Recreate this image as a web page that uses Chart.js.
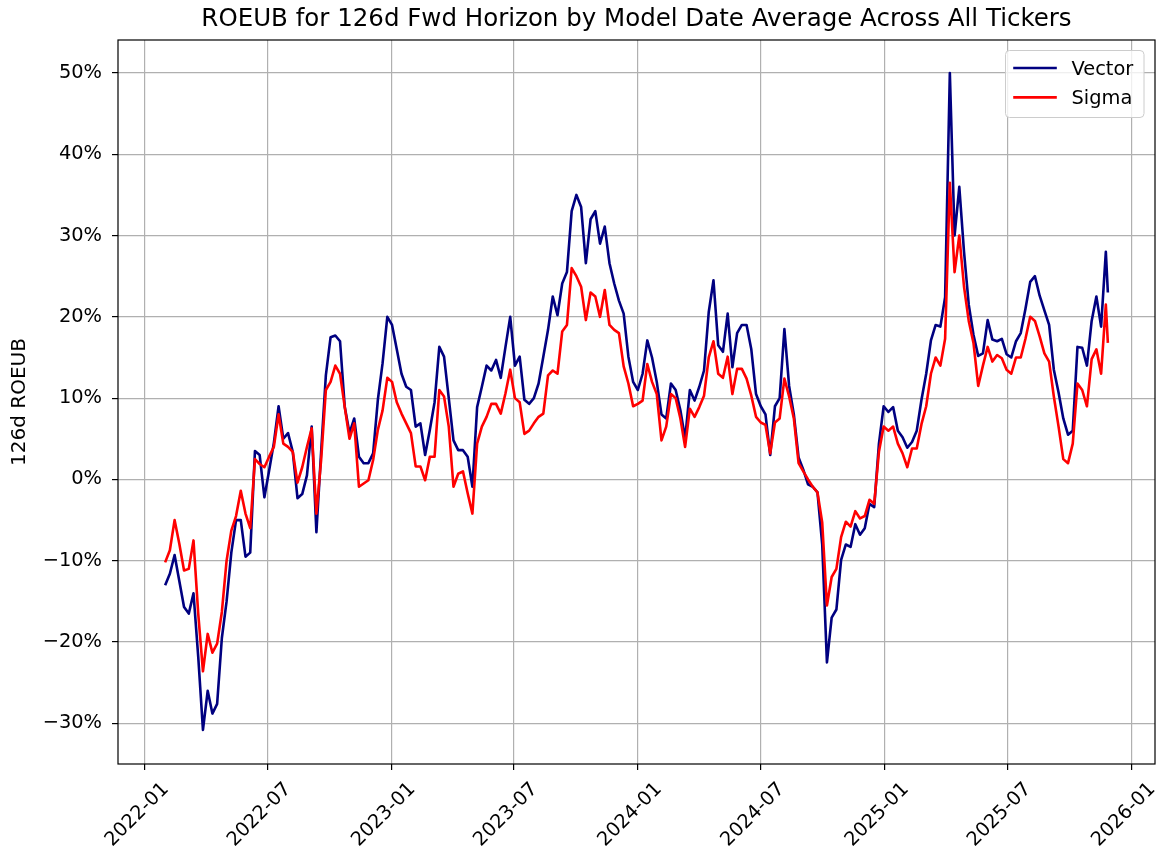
<!DOCTYPE html>
<html>
<head>
<meta charset="utf-8">
<style>
html,body{margin:0;padding:0;background:#ffffff;}
canvas{display:block;}
</style>
<script src="https://cdn.jsdelivr.net/npm/chart.js@4.4.1/dist/chart.umd.min.js"></script>
</head>
<body>
<canvas id="c" width="1173" height="857"></canvas>
<script>
// ---------------- data ----------------
const chartTitle = 'ROEUB for 126d Fwd Horizon by Model Date Average Across All Tickers';
const yAxisTitle = '126d ROEUB';
const seriesNames = ['Vector', 'Sigma'];

const dates = [
  '2022-01-31','2022-02-07','2022-02-14','2022-02-21','2022-02-28','2022-03-07','2022-03-14','2022-03-21','2022-03-28',
  '2022-04-04','2022-04-11','2022-04-18','2022-04-25','2022-05-02','2022-05-09','2022-05-16','2022-05-23','2022-05-30',
  '2022-06-06','2022-06-13','2022-06-20','2022-06-27','2022-07-04','2022-07-11','2022-07-18','2022-07-25',
  '2022-08-01','2022-08-08','2022-08-15','2022-08-22','2022-08-29','2022-09-05','2022-09-12','2022-09-19','2022-09-26',
  '2022-10-03','2022-10-10','2022-10-17','2022-10-24','2022-10-31','2022-11-07','2022-11-14','2022-11-21','2022-11-28',
  '2022-12-05','2022-12-12','2022-12-19','2022-12-26',
  '2023-01-02','2023-01-09','2023-01-16','2023-01-23','2023-01-30','2023-02-06','2023-02-13','2023-02-20','2023-02-27',
  '2023-03-06','2023-03-13','2023-03-20','2023-03-27','2023-04-03','2023-04-10','2023-04-17','2023-04-24',
  '2023-05-01','2023-05-08','2023-05-15','2023-05-22','2023-05-29','2023-06-05','2023-06-12','2023-06-19','2023-06-26',
  '2023-07-03','2023-07-10','2023-07-17','2023-07-24','2023-07-31','2023-08-07','2023-08-14','2023-08-21','2023-08-28',
  '2023-09-04','2023-09-11','2023-09-18','2023-09-25','2023-10-02','2023-10-09','2023-10-16','2023-10-23','2023-10-30',
  '2023-11-06','2023-11-13','2023-11-20','2023-11-27','2023-12-04','2023-12-11','2023-12-18','2023-12-25',
  '2024-01-01','2024-01-08','2024-01-15','2024-01-22','2024-01-29','2024-02-05','2024-02-12','2024-02-19','2024-02-26',
  '2024-03-04','2024-03-11','2024-03-18','2024-03-25','2024-04-01','2024-04-08','2024-04-15','2024-04-22','2024-04-29',
  '2024-05-06','2024-05-13','2024-05-20','2024-05-27','2024-06-03','2024-06-10','2024-06-17','2024-06-24',
  '2024-07-01','2024-07-08','2024-07-15','2024-07-22','2024-07-29','2024-08-05','2024-08-12','2024-08-19','2024-08-26',
  '2024-09-02','2024-09-09','2024-09-16','2024-09-23','2024-09-30','2024-10-07','2024-10-14','2024-10-21','2024-10-28',
  '2024-11-04','2024-11-11','2024-11-18','2024-11-25','2024-12-02','2024-12-09','2024-12-16','2024-12-23','2024-12-30',
  '2025-01-06','2025-01-13','2025-01-20','2025-01-27','2025-02-03','2025-02-10','2025-02-17','2025-02-24',
  '2025-03-03','2025-03-10','2025-03-17','2025-03-24','2025-03-31','2025-04-07','2025-04-14','2025-04-21','2025-04-28',
  '2025-05-05','2025-05-12','2025-05-19','2025-05-26','2025-06-02','2025-06-09','2025-06-16','2025-06-23','2025-06-30',
  '2025-07-07','2025-07-14','2025-07-21','2025-07-28','2025-08-04','2025-08-11','2025-08-18','2025-08-25',
  '2025-09-01','2025-09-08','2025-09-15','2025-09-22','2025-09-29','2025-10-06','2025-10-13','2025-10-20','2025-10-27',
  '2025-11-03','2025-11-10','2025-11-17','2025-11-24','2025-11-27'
];

// Vector, in percent
const vector = [
  -13.0,-11.6,-9.3,-12.5,-15.7,-16.5,-14.0,-21.8,-30.8,
  -26.0,-28.8,-27.6,-19.5,-15.0,-9.0,-5.0,-5.0,-9.5,
  -9.0,3.5,3.0,-2.2,1.1,4.5,9.0,5.0,
  5.7,3.4,-2.3,-1.8,0.5,6.5,-6.5,3.4,12.8,
  17.5,17.7,17.0,8.9,5.7,7.5,2.8,2.0,2.0,
  3.2,9.8,14.3,20.0,
  19.0,16.0,13.0,11.4,11.0,6.5,6.9,3.0,6.1,
  9.5,16.3,15.1,10.0,4.8,3.6,3.6,2.8,
  -0.9,8.9,11.4,14.0,13.4,14.7,12.5,16.3,20.0,
  14.0,15.1,9.8,9.3,10.0,11.8,15.1,18.4,22.5,
  20.2,24.1,25.5,33.0,35.0,33.5,26.6,32.0,33.0,
  29.0,31.1,26.6,24.1,22.0,20.4,15.1,12.0,
  11.0,13.0,17.1,15.0,12.0,8.0,7.5,11.8,11.0,
  8.5,5.0,11.0,9.7,11.4,13.4,20.6,24.5,16.5,
  15.7,20.4,13.8,18.0,19.0,19.0,16.0,10.5,
  9.0,8.0,3.0,9.0,10.0,18.5,11.5,8.0,2.7,
  1.2,-0.6,-0.9,-1.6,-8.0,-22.5,-17.0,-16.0,-9.9,
  -8.0,-8.3,-5.5,-6.8,-6.0,-3.0,-3.4,4.4,9.0,
  8.3,8.9,6.0,5.2,3.9,4.6,6.0,9.8,
  13.0,17.1,19.0,18.8,22.4,50.0,30.0,36.0,28.0,
  21.5,17.8,15.2,15.5,19.6,17.2,17.0,17.3,15.4,
  15.0,17.0,18.0,21.0,24.3,25.0,22.6,20.8,
  19.0,13.5,10.7,7.5,5.5,6.0,16.3,16.2,14.0,
  19.5,22.5,18.8,28.0,23.0
];

// Sigma, in percent
const sigma = [
  -10.2,-8.7,-5.0,-7.9,-11.2,-11.0,-7.5,-16.5,-23.6,
  -19.0,-21.3,-20.2,-16.3,-10.0,-6.3,-4.5,-1.4,-4.2,
  -6.0,2.5,1.9,1.5,2.8,4.0,8.0,4.4,
  4.0,3.4,-0.4,1.5,4.0,6.3,-4.2,2.4,11.0,
  12.0,14.0,13.0,8.9,5.0,6.9,-0.9,-0.5,-0.1,
  2.4,6.1,8.5,12.5,
  12.0,9.5,8.1,6.9,5.7,1.6,1.6,-0.1,2.8,
  2.8,11.0,10.2,6.5,-0.9,0.7,1.0,-1.7,
  -4.2,4.4,6.5,7.7,9.3,9.3,8.1,10.6,13.5,
  10.0,9.5,5.6,6.0,6.9,7.7,8.1,12.8,13.4,
  13.0,18.2,19.0,26.0,25.0,23.7,19.6,23.0,22.5,
  20.0,23.3,19.0,18.4,18.0,13.9,11.8,9.0,
  9.3,9.7,14.2,12.0,10.5,4.8,6.5,10.5,10.0,
  7.5,4.0,8.7,7.7,8.9,10.3,15.0,17.0,13.0,
  12.5,15.1,10.5,13.6,13.6,12.4,10.3,7.7,
  7.0,6.7,3.2,7.0,7.5,12.4,10.2,7.5,2.0,
  1.0,0.0,-0.9,-1.6,-5.3,-15.5,-12.0,-11.0,-7.1,
  -5.2,-5.8,-3.9,-4.8,-4.5,-2.5,-3.0,3.4,6.5,
  6.0,6.5,4.4,3.2,1.5,3.8,3.8,6.8,
  9.0,13.0,15.0,14.0,17.3,36.5,25.5,30.0,23.7,
  19.5,16.8,11.5,14.0,16.3,14.5,15.3,14.9,13.5,
  13.0,15.0,15.0,17.3,20.0,19.5,17.6,15.5,
  14.5,10.2,6.5,2.5,2.0,4.4,11.8,11.0,9.0,
  14.8,16.0,13.0,21.5,16.8
];

const yTickValues = [-30, -20, -10, 0, 10, 20, 30, 40, 50];
const yTickLabels = ['\u221230%', '\u221220%', '\u221210%', '0%', '10%', '20%', '30%', '40%', '50%'];
const xTickDates = ['2022-01-01','2022-07-01','2023-01-01','2023-07-01','2024-01-01','2024-07-01','2025-01-01','2025-07-01','2026-01-01'];
const xTickLabels = ['2022-01','2022-07','2023-01','2023-07','2024-01','2024-07','2025-01','2025-07','2026-01'];

// ---------------- chart ----------------
const FONT = 'DejaVu Sans';
Chart.defaults.font.family = FONT;
Chart.defaults.color = '#000000';

const toTime = s => Date.parse(s + 'T00:00:00Z');
const xs = dates.map(toTime);
const xTicks = xTickDates.map(toTime);
const span = xs[xs.length - 1] - xs[0];
const xMin = xs[0] - 0.05 * span;
const xMax = xs[xs.length - 1] + 0.05 * span;

const framePlugin = {
  id: 'frame',
  afterDatasetsDraw(chart) {
    const {ctx, chartArea: a} = chart;
    ctx.save();
    ctx.strokeStyle = '#000000';
    ctx.lineWidth = 1.2;
    ctx.strokeRect(a.left, a.top, a.right - a.left, a.bottom - a.top);
    ctx.restore();
  }
};

const legendPlugin = {
  id: 'mplLegend',
  afterDraw(chart) {
    const {ctx, chartArea: a} = chart;
    const fs = 19.4;
    ctx.save();
    ctx.font = fs + 'px "' + FONT + '"';
    const items = chart.data.datasets.map(d => ({text: d.label, color: d.borderColor, lw: d.borderWidth}));
    const textW = Math.max(...items.map(it => ctx.measureText(it.text).width));
    const w = 67 + textW + 9.7;
    const h = 67;
    const right = a.right - 11;
    const left = right - w;
    const top = a.top + 10.5;
    const r = 4;
    ctx.beginPath();
    ctx.moveTo(left + r, top);
    ctx.arcTo(right, top, right, top + h, r);
    ctx.arcTo(right, top + h, left, top + h, r);
    ctx.arcTo(left, top + h, left, top, r);
    ctx.arcTo(left, top, right, top, r);
    ctx.closePath();
    ctx.fillStyle = 'rgba(255,255,255,0.8)';
    ctx.fill();
    ctx.strokeStyle = '#cccccc';
    ctx.lineWidth = 1;
    ctx.stroke();
    items.forEach((it, i) => {
      const y = top + 17.5 + i * 29.4;
      ctx.beginPath();
      ctx.moveTo(left + 7.7, y);
      ctx.lineTo(left + 51.3, y);
      ctx.strokeStyle = it.color;
      ctx.lineWidth = it.lw;
      ctx.stroke();
      ctx.fillStyle = '#000000';
      ctx.textAlign = 'left';
      ctx.textBaseline = 'middle';
      ctx.fillText(it.text, left + 66, y + 1.5);
    });
    ctx.restore();
  }
};

const gridOpts = {color: '#b0b0b0', lineWidth: 1.2, tickColor: '#000000', tickLength: 6, tickWidth: 1.2};

new Chart(document.getElementById('c'), {
  type: 'line',
  data: {
    datasets: [
      {label: seriesNames[0], data: xs.map((x, i) => ({x: x, y: vector[i]})), borderColor: '#000080', backgroundColor: '#000080',
       borderWidth: 2.6, pointRadius: 0, tension: 0, fill: false, order: 2, borderJoinStyle: 'round'},
      {label: seriesNames[1], data: xs.map((x, i) => ({x: x, y: sigma[i]})), borderColor: '#ff0000', backgroundColor: '#ff0000',
       borderWidth: 2.6, pointRadius: 0, tension: 0, fill: false, order: 1, borderJoinStyle: 'round'}
    ]
  },
  options: {
    responsive: false,
    animation: false,
    devicePixelRatio: 1,
    layout: {padding: {left: 0, right: 18, top: 0, bottom: 0}},
    plugins: {
      legend: {display: false},
      tooltip: {enabled: false},
      title: {display: true, text: chartTitle, fullSize: false, color: '#000000',
              font: {family: FONT, size: 24.5, weight: 'normal'}, padding: {top: 5.3, bottom: 5.3}}
    },
    scales: {
      x: {
        type: 'linear', min: xMin, max: xMax,
        afterBuildTicks: s => { s.ticks = xTicks.map(v => ({value: v})); },
        afterFit: s => { s.height = 93; },
        grid: gridOpts,
        border: {display: false},
        ticks: {autoSkip: false, maxRotation: 45, minRotation: 45, padding: 8, labelOffset: 21,
                color: '#000000', font: {family: FONT, size: 19.4},
                callback: (v, i) => xTickLabels[i]}
      },
      y: {
        type: 'linear', min: -35, max: 54.05,
        afterBuildTicks: s => { s.ticks = yTickValues.map(v => ({value: v})); },
        afterFit: s => { s.width = 118; },
        grid: gridOpts,
        border: {display: false},
        ticks: {padding: 10, color: '#000000', font: {family: FONT, size: 19.4},
                callback: (v, i) => yTickLabels[i]},
        title: {display: true, text: yAxisTitle, color: '#000000', font: {family: FONT, size: 20}, padding: {top: 8, bottom: 0}}
      }
    }
  },
  plugins: [framePlugin, legendPlugin]
});
</script>
</body>
</html>
